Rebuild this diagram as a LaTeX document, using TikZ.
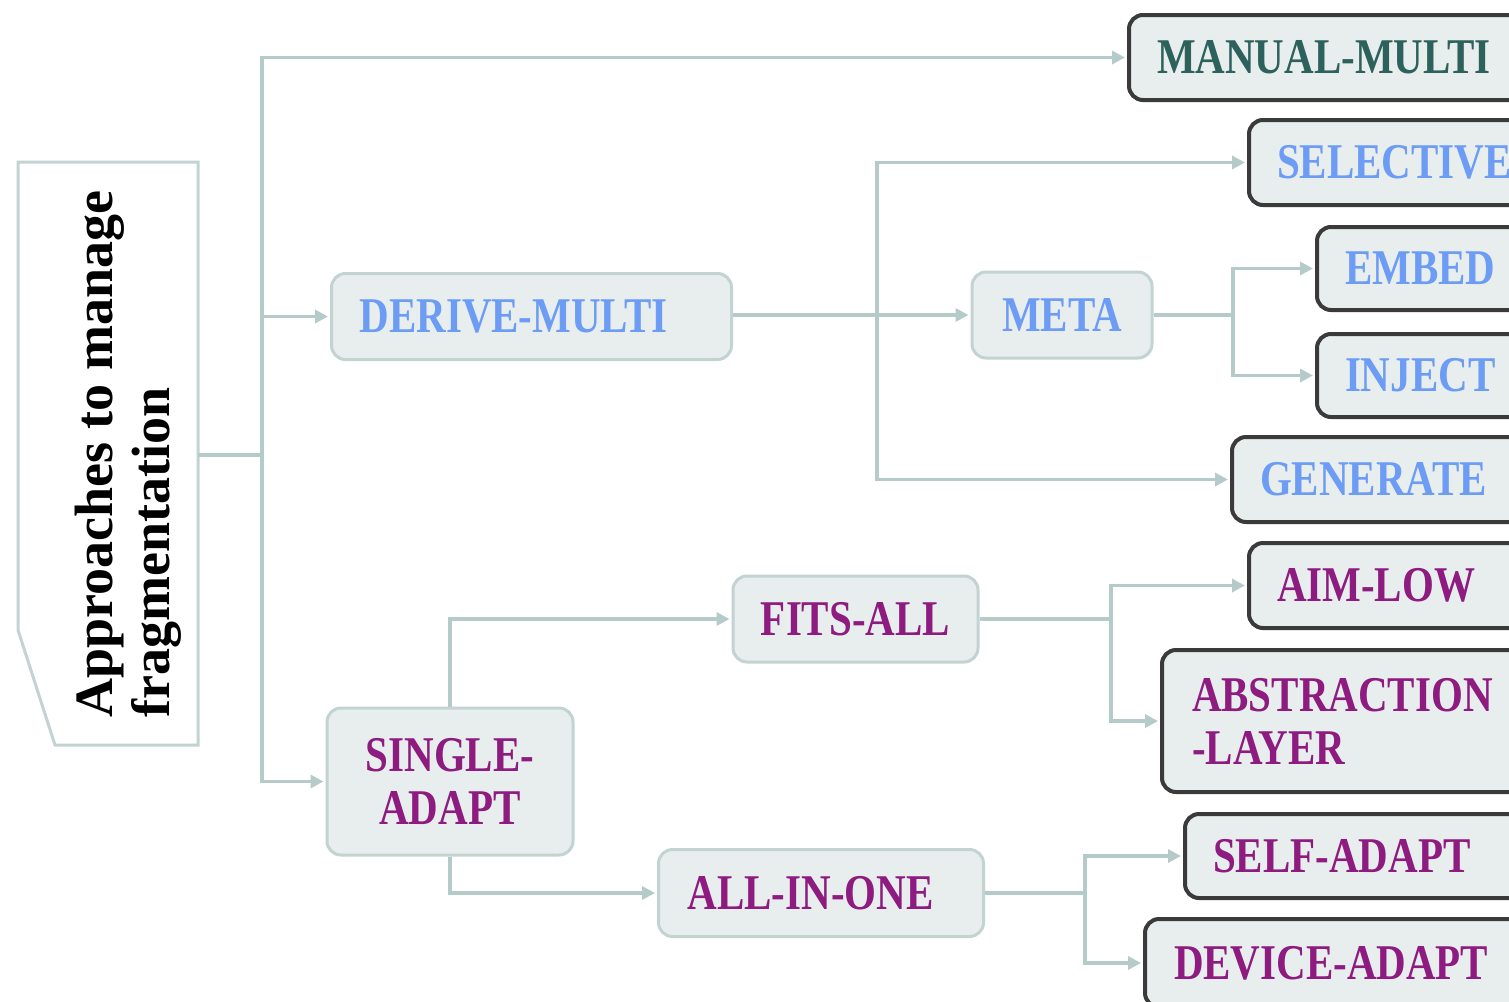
\documentclass[tikz,border=0pt]{standalone}
\usepackage{fontspec}
\setmainfont{Liberation Serif}
\newfontfamily\lblfont[FakeStretch=0.82]{Liberation Serif}
\usetikzlibrary{arrows.meta}
\definecolor{conn}{HTML}{B5CBCA}
\definecolor{boxline}{HTML}{C2D3D2}
\definecolor{boxfill}{HTML}{E8EEEE}
\definecolor{darkline}{HTML}{3A3A3A}
\definecolor{bluetxt}{HTML}{6D9CF5}
\definecolor{magtxt}{HTML}{8E1B80}
\definecolor{tealtxt}{HTML}{2D615C}
\tikzset{
  lbl/.style={font=\lblfont\bfseries\fontsize{25pt}{26.5pt}\selectfont},
  lightbox/.style={draw=boxline, line width=1.5pt, fill=boxfill, rounded corners=7pt, inner sep=0pt, lbl},
  darkbox/.style={draw=darkline, line width=2pt, fill=boxfill, rounded corners=7pt, inner sep=0pt, lbl,
     anchor=north west, text width=170pt, inner xsep=14pt, align=left},
  plain/.style={draw=conn, line width=1.7pt},
  arr/.style={draw=conn, line width=1.7pt, -{Triangle[length=6.5pt,width=6.5pt]}, shorten >=1pt},
}
\begin{document}
\begin{tikzpicture}[x=0.5pt, y=-0.5pt]
\useasboundingbox (0,0) rectangle (1509,1001);
\clip (0,0) rectangle (1509,1001);
\fill[white] (0,0) rectangle (1509,1001);

% root
\draw[draw=boxline, line width=1.5pt, fill=white] (18,162) -- (198,162) -- (198,745) -- (55,745) -- (18,630) -- cycle;
\node[rotate=90, anchor=west, align=left, inner sep=0pt,
      font=\bfseries\fontsize{27pt}{28.5pt}\selectfont] (root) at (128,718) {Approaches to manage\\fragmentation};
\coordinate (rootR) at (198,455);
\coordinate (tj) at (262,455);

% dark (leaf) boxes
\node[darkbox, minimum height=42.5pt, text=tealtxt] (mm) at (1127,13) {MANUAL-MULTI};
\node[darkbox, minimum height=42.5pt, text=bluetxt] (sel) at (1247,118) {SELECTIVE};
\node[darkbox, minimum height=41.5pt, text=bluetxt] (emb) at (1315,225) {EMBED};
\node[darkbox, minimum height=41.5pt, text=bluetxt] (inj) at (1315,332) {INJECT};
\node[darkbox, minimum height=42.5pt, text=bluetxt] (gen) at (1230,435) {GENERATE};
\node[darkbox, minimum height=42.5pt, text=magtxt] (aim) at (1247,541) {AIM-LOW};
\node[darkbox, minimum height=71pt, inner xsep=15pt, text=magtxt] (abs) at (1160,648) {ABSTRACTION\\-LAYER};
\node[darkbox, minimum height=42pt, text=magtxt] (self) at (1183,812) {SELF-ADAPT};
\node[darkbox, minimum height=44pt, inner xsep=14.5pt, text=magtxt] (dev) at (1143,917) {DEVICE-ADAPT};

% light (inner) boxes
\node[lightbox, anchor=north west, text width=172pt, inner xsep=14pt, align=left,
      minimum height=43pt, text=bluetxt] (dm) at (330,272) {DERIVE-MULTI};
\node[lightbox, minimum width=90pt, minimum height=43pt, text=bluetxt] (meta) at (1062,315) {META};
\node[lightbox, minimum width=122.5pt, minimum height=43pt, text=magtxt] (fits) at (855.5,619) {FITS-ALL};
\node[lightbox, minimum width=123pt, minimum height=73.5pt, align=center, text=magtxt] (sa) at (450,781.5) {SINGLE-\\ADAPT};
\node[lightbox, anchor=north west, text width=133.5pt, inner xsep=14.5pt, align=left,
      minimum height=43.5pt, text=magtxt] (aio) at (657,848) {ALL-IN-ONE};

% junction columns
\coordinate (x2) at (877,0);
\coordinate (x3) at (1233,0);
\coordinate (x4) at (1111,0);
\coordinate (x5) at (1085,0);
\coordinate (j2) at (x2 |- meta.west);
\coordinate (j3) at (x3 |- meta.east);
\coordinate (j4) at (x4 |- fits.east);
\coordinate (j5) at (x5 |- aio.east);

% connectors
\draw[plain] (rootR) -- (tj);
\draw[arr] (tj) |- (mm.west);
\draw[arr] (tj) |- (dm.west);
\draw[arr] (tj) |- (sa.west);

\draw[arr] (dm.east |- meta.west) -- (meta.west);
\draw[arr] (j2) |- (sel.west);
\draw[arr] (j2) |- (gen.west);

\draw[plain] (meta.east) -- (j3);
\draw[arr] (j3) |- (emb.west);
\draw[arr] (j3) |- (inj.west);

\draw[arr] (sa.north) |- (fits.west);
\draw[arr] (sa.south) |- (aio.west);

\draw[plain] (fits.east) -- (j4);
\draw[arr] (j4) |- (aim.west);
\draw[arr] (j4) |- (abs.west);

\draw[plain] (aio.east) -- (j5);
\draw[arr] (j5) |- (self.west);
\draw[arr] (j5) |- (dev.west);
\end{tikzpicture}
\end{document}
